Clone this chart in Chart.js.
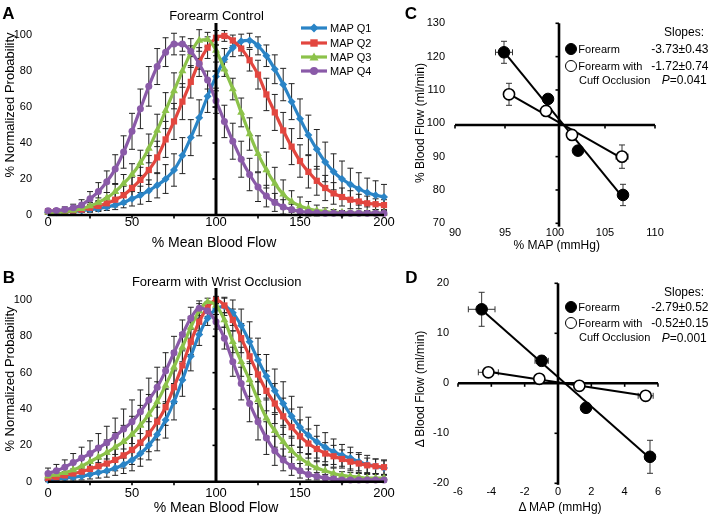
<!DOCTYPE html>
<html><head><meta charset="utf-8">
<script src="https://cdn.jsdelivr.net/npm/chart.js@4/dist/chart.umd.min.js"></script>
<style>
body{margin:0;background:#fff;width:712px;height:517px;position:relative;overflow:hidden;font-family:"Liberation Sans",Arial,sans-serif;color:#000}
canvas{position:absolute}
.t{position:absolute;white-space:nowrap;line-height:1;transform:translate(-50%,-50%)}
.l{position:absolute;white-space:nowrap;line-height:1;transform:translate(0,-50%)}
.rr{position:absolute;white-space:nowrap;line-height:1;transform:translate(-100%,-50%)}
.r{position:absolute;white-space:nowrap;line-height:1;transform:translate(-50%,-50%) rotate(-90deg)}
.b{font-weight:bold}
.dot{position:absolute;width:12px;height:12px;border-radius:50%;box-sizing:border-box;border:1.6px solid #000}
svg{position:absolute}
</style></head><body>
<canvas id="cA" width="400" height="255" style="left:0;top:0"></canvas>
<canvas id="cB" width="400" height="262" style="left:0;top:255px"></canvas>
<canvas id="cC" width="312" height="255" style="left:400px;top:0"></canvas>
<canvas id="cD" width="312" height="262" style="left:400px;top:255px"></canvas>

<div class="t b" style="left:8.5px;top:12.5px;font-size:17px">A</div>
<div class="t b" style="left:9px;top:276.5px;font-size:17px">B</div>
<div class="t b" style="left:411px;top:12.5px;font-size:17px">C</div>
<div class="t b" style="left:411.5px;top:276.5px;font-size:17px">D</div>

<div class="t" style="left:216.5px;top:15px;font-size:13px">Forearm Control</div>
<div class="t" style="left:216.7px;top:280.7px;font-size:13px">Forearm with Wrist Occlusion</div>
<div class="r" style="left:9px;top:105px;font-size:13px">% Normalized Probability</div>
<div class="r" style="left:9px;top:379px;font-size:13px">% Normalized Probability</div>
<div class="t" style="left:214px;top:241.7px;font-size:14px">% Mean Blood Flow</div>
<div class="t" style="left:216px;top:506.7px;font-size:14px">% Mean Blood Flow</div>
<div class="r" style="left:420px;top:123.3px;font-size:12px">% Blood Flow (ml/min)</div>
<div class="t" style="left:556.7px;top:245px;font-size:12px">% MAP (mmHg)</div>
<div class="r" style="left:420px;top:389px;font-size:12px">Δ Blood Flow (ml/min)</div>
<div class="t" style="left:560px;top:506.7px;font-size:12px">Δ MAP (mmHg)</div>

<div id="legA"></div>

<div class="t" style="left:684px;top:32px;font-size:12px">Slopes:</div>
<div class="dot" style="left:564.7px;top:43px;background:#000"></div>
<div class="l" style="left:578.3px;top:49px;font-size:11px">Forearm</div>
<div class="rr" style="left:708.5px;top:49px;font-size:12px">-3.73±0.43</div>
<div class="dot" style="left:564.7px;top:60px;background:#fff"></div>
<div class="l" style="left:578.3px;top:66px;font-size:11px">Forearm with</div>
<div class="rr" style="left:708.5px;top:66px;font-size:12px">-1.72±0.74</div>
<div class="l" style="left:579px;top:79.5px;font-size:11px">Cuff Occlusion</div>
<div class="l" style="left:661.7px;top:80px;font-size:12px"><i>P</i>=0.041</div>

<div class="t" style="left:684px;top:291.7px;font-size:12px">Slopes:</div>
<div class="dot" style="left:564.7px;top:301.3px;background:#000"></div>
<div class="l" style="left:578.3px;top:307.3px;font-size:11px">Forearm</div>
<div class="rr" style="left:708.5px;top:307.3px;font-size:12px">-2.79±0.52</div>
<div class="dot" style="left:564.7px;top:317.3px;background:#fff"></div>
<div class="l" style="left:578.3px;top:323.3px;font-size:11px">Forearm with</div>
<div class="rr" style="left:708.5px;top:323.3px;font-size:12px">-0.52±0.15</div>
<div class="l" style="left:579px;top:337.3px;font-size:11px">Cuff Occlusion</div>
<div class="l" style="left:661.7px;top:338.3px;font-size:12px"><i>P</i>=0.001</div>

<script>
// ---------- DATA ----------
const seriesNames = ['MAP Q1','MAP Q2','MAP Q3','MAP Q4'];
const flowBins = [0,5,10,15,20,25,30,35,40,45,50,55,60,65,70,75,80,85,90,95,100,105,110,115,120,125,130,135,140,145,150,155,160,165,170,175,180,185,190,195,200];
const flowTicks = [0,50,100,150,200];
const probTicks = [0,20,40,60,80,100];

// Panel A: Forearm Control (% normalized probability)
const ctrlQ1 = [1.5,1.5,2,2,2.5,3,3.5,4.5,5.5,7,9,11,13.5,16.5,20,25,33,43,54,66,77,86.5,93,96.5,97,94,88.5,81,72.5,63,53.5,44.5,36.5,29.5,24,20,17,14.5,12.5,11,10];
const ctrlQ2 = [2,2,2,2.5,3,4,5,6.5,8.5,11,15,19.5,25,32,42,52,63,74,85,93,98.5,99.5,97,92.5,86,78,67,57,47,38,30,24,19,15,12,10,8.5,7.5,6.5,6,5.5];
const ctrlQ3 = [1.5,1.5,2,2.5,3.5,5,7,9.5,13,17.5,22.5,29,37,47,58,69,80,90,97,97.5,91.5,81,70,57,45,34,25,17.5,11.5,7.5,5,3.5,2.5,2,1.5,1.5,1,1,1,1,1];
const ctrlQ4 = [2.3,2.5,3,4,5.5,9,13,18.5,25.5,35,46.5,59,71.5,82.5,90.5,95,95,91,84,75,63.5,52,41,31,22.5,15.5,10.5,7,4.5,3,2,1.5,1.2,1,1,1,1,1,1,1,1];
const ctrlErrQ1 = [1,1,1,1,1,1.5,1.5,2,2.5,3,4,5,6,7,8,9,10,10,10,9,8,6,5,4,4,5,6,8,9,10,11,11,11,11,10,10,9,9,8,8,7];
const ctrlErrQ2 = [1,1,1,1,1.5,2,2.5,3,4,5,6,7,8,9,10,10,10,9,8,6,4,3,3,4,6,8,9,10,10,10,9,9,8,7,6,5,5,4,4,3,3];
const ctrlErrQ3 = [1,1,1,1,1.5,2,2.5,3,4,5,6,7,8,9,10,10,9,8,6,4,3,4,6,8,9,10,10,9,8,6,5,4,3,2,1.5,1,1,1,1,1,1];
const ctrlErrQ4 = [1,1,1.5,2,3,4,5,6,8,9,10,11,11,10,8,6,4,3,3,5,7,9,10,10,9,8,6,5,4,3,2,1.5,1,1,1,1,1,1,1,1,1];

// Panel B: Forearm with Wrist Occlusion
const wristQ1 = [1,1.5,2,2.5,3,4,5,6,7.5,9.5,12,15.5,20,26,34,44,56,69,81,90,95,96.5,93,86,77,67,58,50,43,36,30,25.5,22,19,16.5,14.5,13,11,9.5,8.5,7.5];
const wristQ2 = [2,2.5,3.5,4.5,5.5,7,8.5,10,12,14.5,17.5,21.5,26.5,33,41,52,64,77,88,96,100,97,89,79,69,59,50,43,36,30,25,21,18,15.5,14,12.5,11,10,9,8.5,8];
const wristQ3 = [3,4,5,6.5,8.5,11,13.5,16,19,22,26,31,37,44,53,63,74,85,94,99,97,89,77,66,56,45,35,28,22,17,13,10,7.5,6,4.5,3.5,3,2.5,2,2,2];
const wristQ4 = [4.5,6,8,10.5,13,15.5,18.5,21.5,25,29,33,38.5,45,52,61,71,81,90,95.5,94,88,79,66,54,43,33,24,17,12,8.5,6,4,3,2,1.5,1,1,1,1,1,1];
const wristErrQ1 = [1,1,1,1.5,2,2.5,3,3.5,4,5,6,7,8,9,10,10,9,8,6,4,3,5,7,9,11,12,12,12,12,11,11,10,9,8,7,6,6,5,5,4,4];
const wristErrQ2 = [1,1.5,2,2.5,3,3.5,4,5,6,7,8,9,10,10,10,9,8,7,5,3,2,4,6,8,10,11,11,11,10,10,9,8,7,6,6,5,5,5,4,4,4];
const wristErrQ3 = [2,2.5,3,3.5,4,5,6,7,8,9,10,11,11,11,10,9,8,6,4,2,2,4,6,8,9,10,10,9,8,7,6,5,4,3,3,2,2,2,2,2,2];
const wristErrQ4 = [3,3.5,4,5,6,7,8,9,10,11,12,12,12,11,10,9,8,6,4,3,4,6,8,9,10,10,9,8,6,5,4,3,2,2,1.5,1,1,1,1,1,1];

// Panel C: % MAP vs % blood flow
const mapC_forearm  = [94.9, 99.3, 102.3, 106.8];
const flowC_forearm = [121.3, 107.3, 91.8, 78.5];
const mapErrC_forearm  = [0.85, 0.3, 0.3, 0.4];
const flowErrC_forearm = [3.3, 1.3, 1.3, 3.2];
const mapC_cuff  = [95.4, 99.1, 101.7, 106.7];
const flowC_cuff = [108.7, 103.7, 96.5, 90.0];
const mapErrC_cuff  = [0.45, 0.3, 0.3, 0.6];
const flowErrC_cuff = [3.3, 1.3, 1.0, 3.5];
const fitC_forearm_x = [94.9, 106.8], fitC_forearm_y = [121.4, 77.7];
const fitC_cuff_x = [95.4, 106.7], fitC_cuff_y = [108.8, 89.5];
const mapTicksC = [90,95,100,105,110];
const flowTicksC = [70,80,90,100,110,120,130];

// Panel D: delta MAP vs delta blood flow
const mapD_forearm  = [-4.58, -0.98, 1.68, 5.52];
const flowD_forearm = [14.8, 4.5, -4.9, -14.7];
const mapErrD_forearm  = [0.8, 0.4, 0.2, 0.3];
const flowErrD_forearm = [3.4, 1.0, 0.8, 3.3];
const mapD_cuff  = [-4.18, -1.12, 1.28, 5.26];
const flowD_cuff = [2.2, 0.9, -0.5, -2.5];
const mapErrD_cuff  = [0.6, 0.3, 0.3, 0.45];
const flowErrD_cuff = [0.5, 0.5, 0.5, 0.5];
const fitD_forearm_x = [-4.58, 5.52], fitD_forearm_y = [14.7, -15.0];
const fitD_cuff_x = [-4.18, 5.26], fitD_cuff_y = [2.3, -2.5];
const mapTicksD = [-6,-4,-2,0,2,4,6];
const flowTicksD = [-20,-10,0,10,20];

// ---------- STYLE ----------
const seriesColors = ['#2a84c6','#e2463f','#8cc24a','#8a5aa8'];
const pointStyles = ['rectRot','rect','triangle','circle'];
const pointRadii = [4,4.4,4.6,3.5];
const FAMILY = '"Liberation Sans", Arial, sans-serif';
Chart.defaults.font.family = FAMILY;
Chart.defaults.color = '#000';

// legend A
(function(){
  const ys = [28.3,42.7,56.7,70.7];
  let h = '';
  ys.forEach((cy,k)=>{
    const c = seriesColors[k];
    let m;
    if(k===0) m = `<polygon points="13,0.5 17.5,5 13,9.5 8.5,5" fill="${c}"/>`;
    else if(k===1) m = `<rect x="9.3" y="1.3" width="7.4" height="7.4" fill="${c}"/>`;
    else if(k===2) m = `<polygon points="13,0.5 17.5,8.5 8.5,8.5" fill="${c}"/>`;
    else m = `<circle cx="13" cy="5" r="4" fill="${c}"/>`;
    h += `<svg width="26" height="10" style="left:301px;top:${cy-5}px"><line x1="0" y1="5" x2="26" y2="5" stroke="${c}" stroke-width="3.2"/>${m}</svg>`;
    h += `<div class="l" style="left:330px;top:${cy}px;font-size:11px">${seriesNames[k]}</div>`;
  });
  document.getElementById('legA').innerHTML = h;
})();

// ---------- PLUGINS ----------
function seg(ctx,x1,y1,x2,y2){ctx.beginPath();ctx.moveTo(x1,y1);ctx.lineTo(x2,y2);ctx.stroke();}
const errorBars = {
  id:'errorBars',
  beforeDatasetsDraw(chart,args,o){
    const {ctx, scales:{x,y}} = chart;
    ctx.save();
    ctx.strokeStyle = o.color || '#222';
    ctx.lineWidth = o.width || 1;
    chart.data.datasets.forEach(ds=>{
      ds.data.forEach((p,j)=>{
        const px = x.getPixelForValue(p.x), py = y.getPixelForValue(p.y);
        if(ds.errY){
          const t = y.getPixelForValue(p.y+ds.errY[j]), b = y.getPixelForValue(p.y-ds.errY[j]);
          seg(ctx,px,t,px,b); seg(ctx,px-o.cap,t,px+o.cap,t); seg(ctx,px-o.cap,b,px+o.cap,b);
        }
        if(ds.errX){
          const l = x.getPixelForValue(p.x-ds.errX[j]), r = x.getPixelForValue(p.x+ds.errX[j]);
          seg(ctx,l,py,r,py); seg(ctx,l,py-o.cap,l,py+o.cap); seg(ctx,r,py-o.cap,r,py+o.cap);
        }
      });
    });
    ctx.restore();
  }
};
function drawCross(chart,o){
  const {ctx, scales:{x,y}} = chart;
  ctx.save(); ctx.strokeStyle='#000';
  const hy = y.getPixelForValue(o.hAt), vx = x.getPixelForValue(o.vAt);
  ctx.lineWidth = o.hWidth;
  seg(ctx, x.getPixelForValue(o.hFrom), hy, x.getPixelForValue(o.hTo), hy);
  ctx.lineWidth = o.vWidth;
  seg(ctx, vx, y.getPixelForValue(o.vFrom), vx, y.getPixelForValue(o.vTo));
  ctx.lineWidth = 1.6;
  o.hTicks.forEach(v=>{const px=x.getPixelForValue(v); seg(ctx,px,hy,px,hy+o.tickLen);});
  o.vTicks.forEach(v=>{const py=y.getPixelForValue(v); seg(ctx,vx-o.tickLen,py,vx,py);});
  ctx.restore();
}
const crossAxes = {
  id:'crossAxes',
  beforeDatasetsDraw(chart,args,o){ if(!o.onTop) drawCross(chart,o); },
  afterDatasetsDraw(chart,args,o){ if(o.onTop) drawCross(chart,o); }
};

function setTicks(list){ return s => { s.ticks = list.map(v => ({value:v})); }; }

// ---------- DISTRIBUTION PANELS ----------
function distChart(id, series, errs, padTop, xAxisH, yMax, xTickPad){
  const datasets = series.map((v,k)=>({
    label: seriesNames[k],
    data: flowBins.map((b,i)=>({x:b, y:v[i]})),
    errY: errs[k],
    borderColor: seriesColors[k], backgroundColor: seriesColors[k],
    borderWidth: 3.2, pointStyle: pointStyles[k], pointRadius: pointRadii[k], pointBorderWidth: 0,
    cubicInterpolationMode: 'monotone', order: 4-k, clip: false
  }));
  return new Chart(document.getElementById(id), {
    type:'line',
    data:{datasets},
    plugins:[errorBars, crossAxes],
    options:{
      responsive:false, animation:false, events:[],
      layout:{padding:{left:0,right:16,top:padTop,bottom:0}},
      plugins:{legend:{display:false}, tooltip:{enabled:false},
        errorBars:{cap:3, color:'#222', width:1},
        crossAxes:{onTop:true, hAt:0, hFrom:0, hTo:200, vAt:100, vFrom:0, vTo:yMax,
          hWidth:2.5, vWidth:3, tickLen:3.5, hTicks:[25,50,75,125,150,175], vTicks:[20,40,60,80]}},
      scales:{
        x:{type:'linear', min:0, max:200, afterFit:s=>{s.height=xAxisH;}, afterBuildTicks:setTicks(flowTicks),
           grid:{display:false,drawTicks:false}, border:{display:false},
           ticks:{padding:xTickPad, maxRotation:0, font:{size:13}, color:'#000'}},
        y:{type:'linear', min:0, max:yMax, afterFit:s=>{s.width=48;}, afterBuildTicks:setTicks(probTicks),
           grid:{display:false,drawTicks:false}, border:{display:false},
           ticks:{padding:16, font:{size:11}, color:'#000'}}
      }
    }
  });
}
distChart('cA', [ctrlQ1,ctrlQ2,ctrlQ3,ctrlQ4], [ctrlErrQ1,ctrlErrQ2,ctrlErrQ3,ctrlErrQ4], 23, 40, 106.7, 0);
distChart('cB', [wristQ1,wristQ2,wristQ3,wristQ4], [wristErrQ1,wristErrQ2,wristErrQ3,wristErrQ4], 33, 35.3, 106.6, 4);

// ---------- SCATTER PANELS ----------
function pts(xs,ys){ return xs.map((x,i)=>({x, y:ys[i]})); }
function scatterChart(id, cfg){
  const datasets = [
    {type:'line', data:pts(cfg.fitF_x,cfg.fitF_y), borderColor:'#000', borderWidth:2, pointRadius:0, order:3, clip:false},
    {type:'line', data:pts(cfg.fitC_x,cfg.fitC_y), borderColor:'#000', borderWidth:2, pointRadius:0, order:3, clip:false},
    {data:pts(cfg.fx,cfg.fy), errX:cfg.fex, errY:cfg.fey, pointRadius:5.8, backgroundColor:'#000', borderColor:'#000', pointBorderWidth:1, order:1, clip:false},
    {data:pts(cfg.cx,cfg.cy), errX:cfg.cex, errY:cfg.cey, pointRadius:5.6, backgroundColor:'#fff', borderColor:'#000', pointBorderWidth:1.6, order:1, clip:false}
  ];
  return new Chart(document.getElementById(id), {
    type:'scatter',
    data:{datasets},
    plugins:[errorBars, crossAxes],
    options:{
      responsive:false, animation:false, events:[],
      layout:{padding:{left:cfg.padL, right:cfg.padR, top:cfg.padT, bottom:0}},
      plugins:{legend:{display:false}, tooltip:{enabled:false},
        errorBars:{cap:3, color:'#333', width:1},
        crossAxes:cfg.cross},
      scales:{
        x:{type:'linear', min:cfg.xMin, max:cfg.xMax, afterFit:s=>{s.height=cfg.xH;}, afterBuildTicks:setTicks(cfg.xTicks),
           grid:{display:false,drawTicks:false}, border:{display:false},
           ticks:{padding:cfg.xPad, maxRotation:0, font:{size:11}, color:'#000'}},
        y:{type:'linear', min:cfg.yMin, max:cfg.yMax, afterFit:s=>{s.width=40;}, afterBuildTicks:setTicks(cfg.yTicks),
           grid:{display:false,drawTicks:false}, border:{display:false},
           ticks:{padding:cfg.yPad, font:{size:11}, color:'#000'}}
      }
    }
  });
}
scatterChart('cC', {
  fitF_x:fitC_forearm_x, fitF_y:fitC_forearm_y, fitC_x:fitC_cuff_x, fitC_y:fitC_cuff_y,
  fx:mapC_forearm, fy:flowC_forearm, fex:mapErrC_forearm, fey:flowErrC_forearm,
  cx:mapC_cuff, cy:flowC_cuff, cex:mapErrC_cuff, cey:flowErrC_cuff,
  padL:15, padR:57, padT:23.3, xH:31.7, xMin:90, xMax:110, xTicks:mapTicksC, xPad:3.4,
  yMin:70, yMax:130, yTicks:flowTicksC, yPad:10,
  cross:{onTop:false, hAt:99.5, hFrom:90, hTo:110, vAt:100.4, vFrom:69, vTo:130, hWidth:2.6, vWidth:2.6, tickLen:3.5,
         hTicks:[90,95,105,110], vTicks:[70,80,90,110,120,130]}
});
scatterChart('cD', {
  fitF_x:fitD_forearm_x, fitF_y:fitD_forearm_y, fitC_x:fitD_cuff_x, fitC_y:fitD_cuff_y,
  fx:mapD_forearm, fy:flowD_forearm, fex:mapErrD_forearm, fey:flowErrD_forearm,
  cx:mapD_cuff, cy:flowD_cuff, cex:mapErrD_cuff, cey:flowErrD_cuff,
  padL:18, padR:54, padT:28.3, xH:33.7, xMin:-6, xMax:6, xTicks:mapTicksD, xPad:2.4,
  yMin:-20, yMax:20, yTicks:flowTicksD, yPad:9,
  cross:{onTop:false, hAt:0, hFrom:-6, hTo:6, vAt:0, vFrom:-20.3, vTo:20, hWidth:2.6, vWidth:2.6, tickLen:3.5,
         hTicks:[-6,-4,-2,2,4,6], vTicks:[-20,-10,10,20]}
});
</script>
</body></html>
